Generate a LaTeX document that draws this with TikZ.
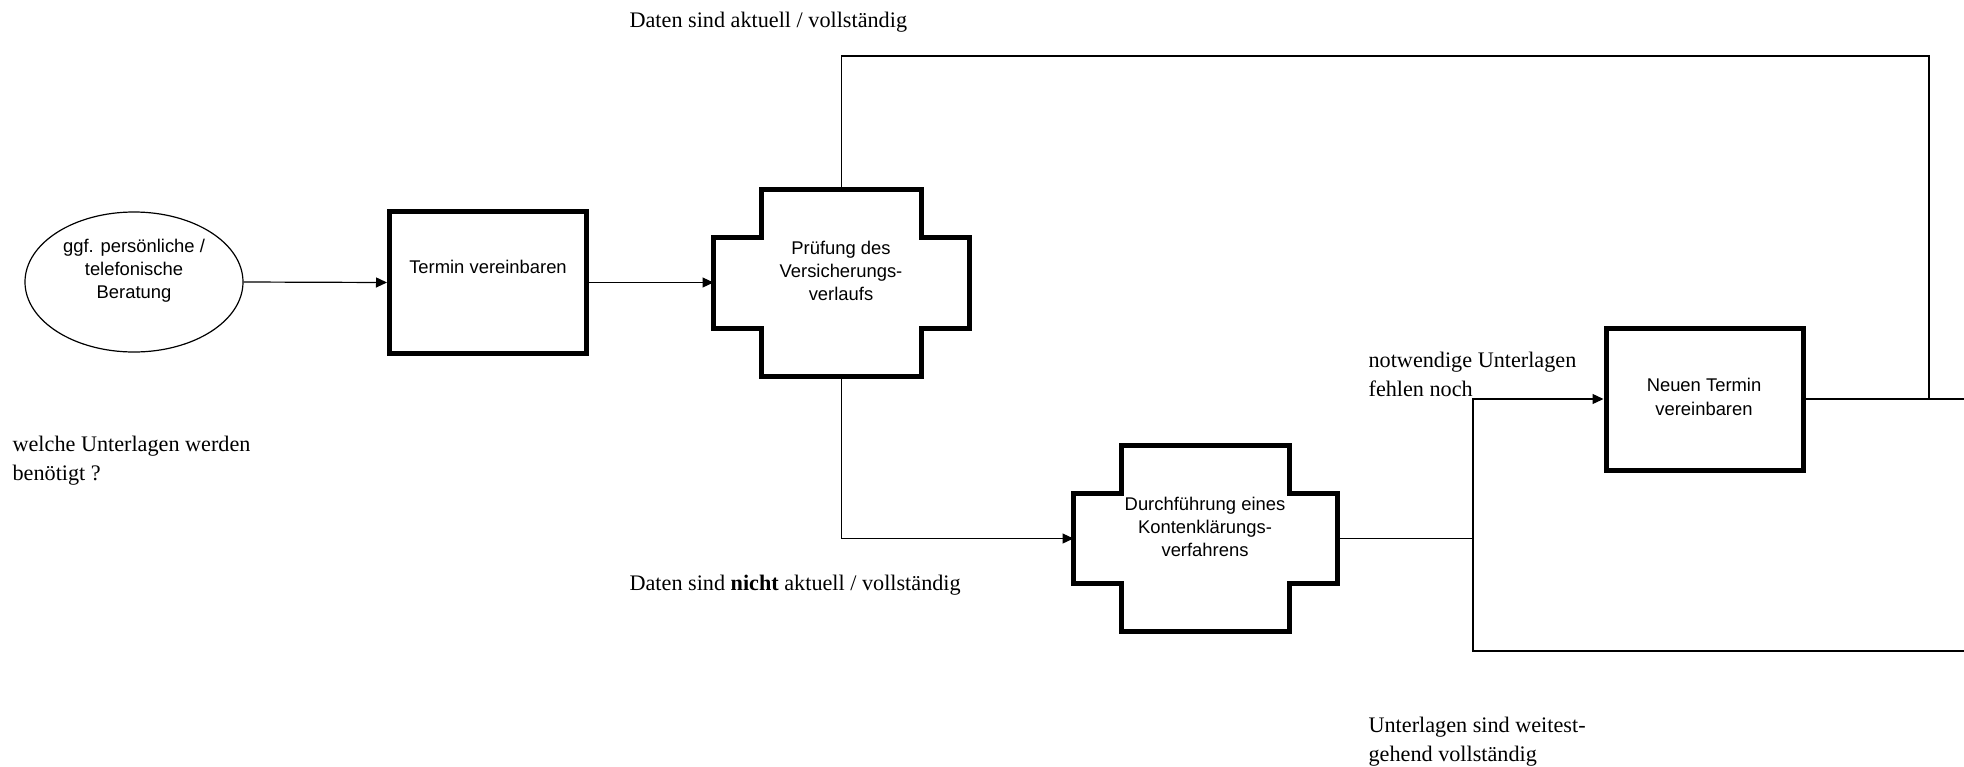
\documentclass[tikz,border=0pt]{standalone}
\usepackage{fontspec}
\setmainfont{Liberation Serif}
\setsansfont{Liberation Sans}
\usetikzlibrary{arrows.meta,calc,shapes.geometric}

\tikzset{every picture/.style={line width=0.6pt}}
\tikzset{
  kasten/.style={draw, line width=2.5pt, minimum width=98.5pt, minimum height=71pt},
  kreuz/.style={inner sep=0pt, outer sep=0pt},
  oval/.style={draw, ellipse, minimum width=109pt, minimum height=70pt, inner sep=0pt},
  pfeil/.style={-{Triangle[length=5.5pt,width=5pt]}},
  notiz/.style={font=\fontsize{11.1}{14.5}\selectfont, anchor=base west, inner sep=0pt, align=left},
  schrift/.style={font=\sffamily\fontsize{9.2}{11.6}\selectfont, align=center, inner sep=0pt},
}

% outline of a cross shaped step around a named node
\newcommand{\kreuzrahmen}[1]{%
  \draw [line width=2.5pt, line join=miter] ($(#1.north west)+(48,0)$) -- ($(#1.north east)+(-48,0)$) -- ($(#1.north east)+(-48,48)$) -- ($(#1.north east)+(0,48)$) -- ($(#1.south east)+(0,-48)$) -- ($(#1.south east)+(-48,-48)$) -- ($(#1.south east)+(-48,0)$) -- ($(#1.south west)+(48,0)$) -- ($(#1.south west)+(48,-48)$) -- ($(#1.south west)+(0,-48)$) -- ($(#1.north west)+(0,48)$) -- ($(#1.north west)+(48,48)$) -- cycle ;}

\begin{document}
\begin{tikzpicture}[x=0.5pt,y=0.5pt,yscale=-1,xscale=1]
\useasboundingbox (0,0) rectangle (1964,766);

%Ellipse
\node [oval] (beratung) at (134,282) {};
%Rectangles
\node [kasten] (termin) at (488,282.5) {};
\node [kasten] (neu) at (1704.5,399) {};
%Crosses
\node [kreuz, minimum width=128pt, minimum height=93.5pt] (pruefung) at (841.5,282.5) {};
\kreuzrahmen{pruefung}
\node [kreuz, minimum width=132pt, minimum height=93pt] (klaerung) at (1205.5,538.5) {};
\kreuzrahmen{klaerung}

%free ends of the lines
\coordinate (verzweig) at (1473,538.5);
\coordinate (ecke) at (1929,56);
\coordinate (rand) at (1964,651);

%Connectors
\draw [pfeil] (beratung.east) -- (termin.west);
\draw [pfeil] (termin.east) -- (pruefung.west);
\draw [pfeil] (pruefung.south) |- (klaerung.west);
\draw (klaerung.east) -- (verzweig);
\draw [pfeil] (verzweig) |- (neu.west);
\draw (verzweig) |- (rand);
\draw (pruefung.north) |- (ecke) -- (ecke |- neu.east);
\draw (neu.east) -- (rand |- neu.east);

% Text Node
\draw (134,271) node [schrift] (t-beratung) {ggf. persönliche /\\telefonische\\Beratung};
% Text Node
\draw (488,267) node [schrift] (t-termin) {Termin vereinbaren};
% Text Node
\draw (841,271) node [schrift] (t-pruefung) {Prüfung des\\Versicherungs-\\verlaufs};
% Text Node
\draw (1205,527) node [schrift] (t-klaerung) {Durchführung eines\\Kontenklärungs-\\verfahrens};
% Text Node
\draw (1704,397) node [schrift] (t-neu) {Neuen Termin\\vereinbaren};

% Text Node
\draw (629,27) node [notiz] (aktuell) {Daten sind aktuell / vollständig};
% Text Node
\draw (629,590) node [notiz] (nicht) {Daten sind \textbf{nicht} aktuell / vollständig};
% Text Node
\draw (12,480) node [notiz] (welche) {welche Unterlagen werden\\benötigt ?};
% Text Node
\draw (1368,396) node [notiz] (fehlen) {notwendige Unterlagen\\fehlen noch};
% Text Node
\draw (1368,761) node [notiz] (weitest) {Unterlagen sind weitest-\\gehend vollständig};

\end{tikzpicture}
\end{document}
